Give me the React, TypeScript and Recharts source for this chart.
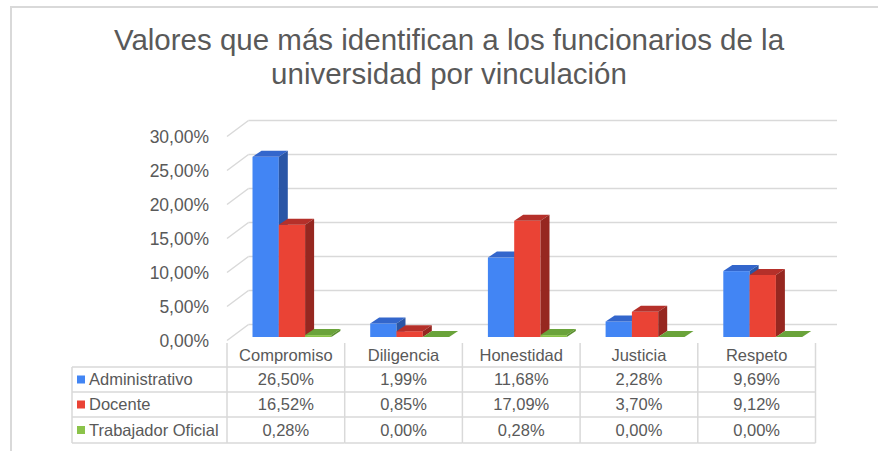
import { Bar, BarChart, CartesianGrid, XAxis, YAxis } from 'recharts';

const categories = ['Compromiso', 'Diligencia', 'Honestidad', 'Justicia', 'Respeto'];
const administrativo = [26.5, 1.99, 11.68, 2.28, 9.69];
const docente = [16.52, 0.85, 17.09, 3.7, 9.12];
const trabajadorOficial = [0.28, 0, 0.28, 0, 0];
const yTicks = [0, 5, 10, 15, 20, 25, 30];

const series = [
  { key: 'administrativo', name: 'Administrativo', values: administrativo, front: '#4285f4', top: '#3366cc', side: '#2a56a6' },
  { key: 'docente', name: 'Docente', values: docente, front: '#ea4335', top: '#b5302a', side: '#962720' },
  { key: 'trabajador', name: 'Trabajador Oficial', values: trabajadorOficial, front: '#8bc34a', top: '#6aa33a', side: '#5a8f2e' },
];

const data = categories.map((name, i) => {
  const row: any = { name };
  series.forEach((s) => (row[s.key] = s.values[i]));
  return row;
});

// layout
const W = 878;
const H = 451;
const PLOT_LEFT = 233.5;
const PLOT_W = 588.5;
const PLOT_TOP = 133;
const PLOT_BOTTOM = 337;
const Y_AXIS_W = 60;
const FRONT_DX = -6.5;
const FRONT_DY = 3.5;
const BACK_DX = 15;
const BACK_DY = -12.5;
const DEPTH_X = 9;
const DEPTH_Y = 6;
const TABLE_LEFT = 72;
const GRID = '#d9d9d9';
const TEXT = '#595959';
const FONT = '"Liberation Sans", Arial, sans-serif';
const FS = 16.5;

const fmt = (v: number) => v.toFixed(2).replace('.', ',') + '%';

function Bar3D(props: any) {
  const { x, y, width, height, s } = props;
  const w = width;
  const h = Math.max(height || 0, 0);
  return (
    <g>
      <rect x={x} y={y} width={w} height={h} fill={s.front} />
      <polygon
        points={`${x},${y} ${x + DEPTH_X},${y - DEPTH_Y} ${x + w + DEPTH_X},${y - DEPTH_Y} ${x + w},${y}`}
        fill={s.top}
      />
      <polygon
        points={`${x + w},${y} ${x + w + DEPTH_X},${y - DEPTH_Y} ${x + w + DEPTH_X},${y + h - DEPTH_Y} ${x + w},${y + h}`}
        fill={s.side}
      />
    </g>
  );
}

function GridLine(props: any) {
  const { x1, y1, x2 } = props;
  return (
    <g key={props.key}>
      <line x1={x1 + FRONT_DX} y1={y1 + FRONT_DY} x2={x1 + BACK_DX} y2={y1 + BACK_DY} stroke={GRID} strokeWidth={1.5} />
      <line x1={x1 + BACK_DX} y1={y1 + BACK_DY} x2={x2 + BACK_DX} y2={y1 + BACK_DY} stroke={GRID} strokeWidth={1.5} />
    </g>
  );
}

function YTick(props: any) {
  const { x, y, payload } = props;
  return (
    <text x={x} y={y + FRONT_DY} dy="0.35em" textAnchor="end" fill={TEXT} fontSize={17.5} fontFamily={FONT}>
      {fmt(payload.value)}
    </text>
  );
}

function TableTick(props: any) {
  const { x, y, payload } = props;
  const i = categories.indexOf(payload.value);
  const bw = PLOT_W / categories.length;
  const left = x - bw / 2 + FRONT_DX;
  const right = x + bw / 2 + FRONT_DX;
  const cx = x + FRONT_DX;
  const rows = [y + 30, y + 55, y + 80, y + 106];
  const line = { stroke: GRID, strokeWidth: 1.5 };
  return (
    <g>
      <text x={cx} y={y + 18} dy="0.35em" textAnchor="middle" fill={TEXT} fontSize={FS} fontFamily={FONT}>
        {payload.value}
      </text>
      <line x1={left} y1={y + 6} x2={left} y2={rows[3]} {...line} />
      {i === categories.length - 1 && <line x1={right} y1={y + 6} x2={right} y2={rows[3]} {...line} />}
      {rows.map((ry, k) => (
        <line key={k} x1={left} y1={ry} x2={right} y2={ry} {...line} />
      ))}
      {series.map((s, k) => (
        <text key={s.key} x={cx} y={(rows[k] + rows[k + 1]) / 2} dy="0.35em" textAnchor="middle" fill={TEXT} fontSize={FS} fontFamily={FONT}>
          {fmt(s.values[i])}
        </text>
      ))}
      {i === 0 && (
        <g>
          <line x1={TABLE_LEFT} y1={rows[0]} x2={TABLE_LEFT} y2={rows[3]} {...line} />
          {rows.map((ry, k) => (
            <line key={k} x1={TABLE_LEFT} y1={ry} x2={left} y2={ry} {...line} />
          ))}
          {series.map((s, k) => {
            const cy = (rows[k] + rows[k + 1]) / 2;
            return (
              <g key={s.key}>
                <rect x={TABLE_LEFT + 5} y={cy - 4} width={8} height={8} fill={s.front} />
                <text x={TABLE_LEFT + 17} y={cy} dy="0.35em" textAnchor="start" fill={TEXT} fontSize={FS} fontFamily={FONT}>
                  {s.name}
                </text>
              </g>
            );
          })}
        </g>
      )}
    </g>
  );
}

export default function App() {
  return (
    <div style={{ position: 'absolute', left: 0, top: 0, width: W, height: H, background: '#fff' }}>
      <div
        style={{
          position: 'absolute',
          left: 10,
          top: 6,
          width: W - 10,
          height: H - 6,
          borderLeft: `2px solid ${GRID}`,
          borderTop: `2px solid ${GRID}`,
        }}
      />
      <div
        style={{
          position: 'absolute',
          left: 10,
          top: 23,
          width: W,
          textAlign: 'center',
          fontFamily: FONT,
          fontSize: 29.5,
          lineHeight: '34px',
          color: TEXT,
        }}
      >
        Valores que más identifican a los funcionarios de la
        <br />
        universidad por vinculación
      </div>
      <div style={{ position: 'absolute', left: 0, top: 0 }}>
        <BarChart
          width={W}
          height={H}
          data={data}
          barGap={0}
          barSize={26.3}
          margin={{ top: PLOT_TOP, right: W - PLOT_LEFT - PLOT_W, bottom: 0, left: PLOT_LEFT - Y_AXIS_W }}
        >
          <CartesianGrid vertical={false} horizontal={(p: any) => <GridLine {...p} />} />
          <XAxis
            dataKey="name"
            height={H - PLOT_BOTTOM}
            axisLine={false}
            tickLine={false}
            tickSize={0}
            tickMargin={0}
            interval={0}
            tick={<TableTick />}
          />
          <YAxis
            width={Y_AXIS_W}
            domain={[0, 30]}
            ticks={yTicks}
            axisLine={false}
            tickLine={false}
            tickSize={0}
            tickMargin={24.5}
            tick={<YTick />}
          />
          {series.map((s) => (
            <Bar
              key={s.key}
              dataKey={s.key}
              name={s.name}
              isAnimationActive={false}
              shape={(p: any) => <Bar3D {...p} s={s} />}
            />
          ))}
        </BarChart>
      </div>
    </div>
  );
}
